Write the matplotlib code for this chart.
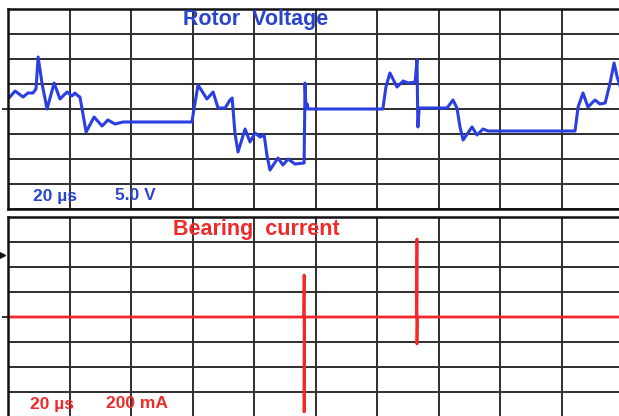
import numpy as np
import matplotlib
matplotlib.use("Agg")
import matplotlib.pyplot as plt

# rotor voltage trace (time in us, voltage in V)
t_volt = [0.6, 2.3, 4.9, 6.5, 8.1, 9.1, 9.8, 11.1, 12.7, 15.0, 16.9, 19.2, 20.8,
          21.8, 22.8, 23.4, 25.4, 28.0, 30.6, 32.5, 34.8, 37.4, 59.8, 60.5, 61.8,
          64.7, 66.7, 68.3, 70.6, 72.2, 72.9, 73.8, 74.8, 77.1, 78.7, 80.3, 82.0,
          83.3, 84.2, 85.2, 87.8, 89.4, 91.1, 93.3, 96.3, 96.6, 96.9, 97.3, 97.6,
          121.9, 122.9, 124.2, 126.5, 128.5, 130.1, 132.4, 133.0, 133.3, 133.7,
          142.8, 144.7, 146.0, 147.0, 148.0, 150.9, 152.5, 154.5, 156.1, 184.4,
          185.4, 187.0, 188.6, 190.9, 192.5, 194.2, 195.8, 197.1, 198.1, 199.5]
volt = [2.4, 3.6, 2.4, 3.2, 3.2, 4.0, 10.4, 5.0, 0.0, 5.2, 2.0, 3.4, 2.6,
        3.2, 2.6, 2.4, -4.6, -1.6, -3.4, -2.2, -3.0, -2.6, -2.6, 0.0, 4.8,
        2.0, 3.4, 0.2, 0.2, 1.8, 2.2, -4.8, -8.6, -4.0, -6.6, -4.8, -5.6,
        -5.2, -9.2, -12.2, -9.8, -11.2, -10.0, -11.0, -10.8, 5.2, 0.0, 1.0, 0.0,
        0.0, 4.4, 7.2, 4.4, 5.6, 5.2, 5.4, 9.8, -3.6, 0.2,
        0.2, 1.8, 0.2, -3.6, -6.2, -3.6, -5.2, -4.0, -4.4, -4.4,
        0.4, 3.2, 0.4, 1.8, 1.0, 1.2, 5.2, 9.2, 6.4, 3.8]

# bearing current trace (time in us, current in mA)
t_curr = [0.0, 96.2, 96.3, 96.3, 96.4, 132.9, 133.0, 133.0, 133.1, 200.0]
curr = [0, 0, 336, -760, 0, 0, 624, -216, 0, 0]

ref_marker_ma = 496

blue = "#2b3fe0"
blue_txt = "#2a45cc"
red = "#f2282a"
red_txt = "#ee2b2b"
grid_c = "#2e2e2e"

plt.rcParams["font.family"] = ["Liberation Sans", "DejaVu Sans"]

fig = plt.figure(figsize=(6.19, 4.16), dpi=100)
W, H = 619.0, 416.0
ax1 = fig.add_axes([8 / W, (H - 209) / H, 615 / W, 200 / H])
ax2 = fig.add_axes([8 / W, (H - 417) / H, 615 / W, 200 / H])


def scope(ax, ystep):
    ax.set_xlim(0, 200)
    ax.set_ylim(-4 * ystep, 4 * ystep)
    ax.set_xticks(np.arange(0, 201, 20))
    ax.set_yticks(np.arange(-4, 5) * ystep)
    ax.tick_params(length=0, labelbottom=False, labelleft=False)
    ax.grid(True, color=grid_c, lw=1.4)
    ax.set_axisbelow(True)
    for s in ax.spines.values():
        s.set_color("#111111")
        s.set_linewidth(1.8)
    ax.axhline(0, xmin=-0.008, xmax=0, color=grid_c, lw=1.4, clip_on=False)


scope(ax1, 5)
scope(ax2, 200)

ax1.plot(t_volt, volt, color=blue, lw=2.2, solid_joinstyle="round")
ax2.plot(t_curr, curr, color=red, lw=2.0)

ax2.plot([-1.9], [ref_marker_ma], marker=">", color="#111111", ms=5, clip_on=False)

ax1.text(80.5, 17.8, "Rotor  Voltage", color=blue_txt, fontsize=15.5,
         fontweight="bold", ha="center", va="center")
ax1.text(8.1, -17.4, "20 µs", color=blue_txt, fontsize=12.5,
         fontweight="bold", ha="left", va="center")
ax1.text(34.8, -17.4, "5.0 V", color=blue_txt, fontsize=12.5,
         fontweight="bold", ha="left", va="center")

ax2.text(80.9, 704, "Bearing  current", color=red_txt, fontsize=15.5,
         fontweight="bold", ha="center", va="center")
ax2.text(7.2, -696, "20 µs", color=red_txt, fontsize=12.5,
         fontweight="bold", ha="left", va="center")
ax2.text(31.9, -696, "200 mA", color=red_txt, fontsize=12.5,
         fontweight="bold", ha="left", va="center")

fig.savefig("out.png", dpi=100)
